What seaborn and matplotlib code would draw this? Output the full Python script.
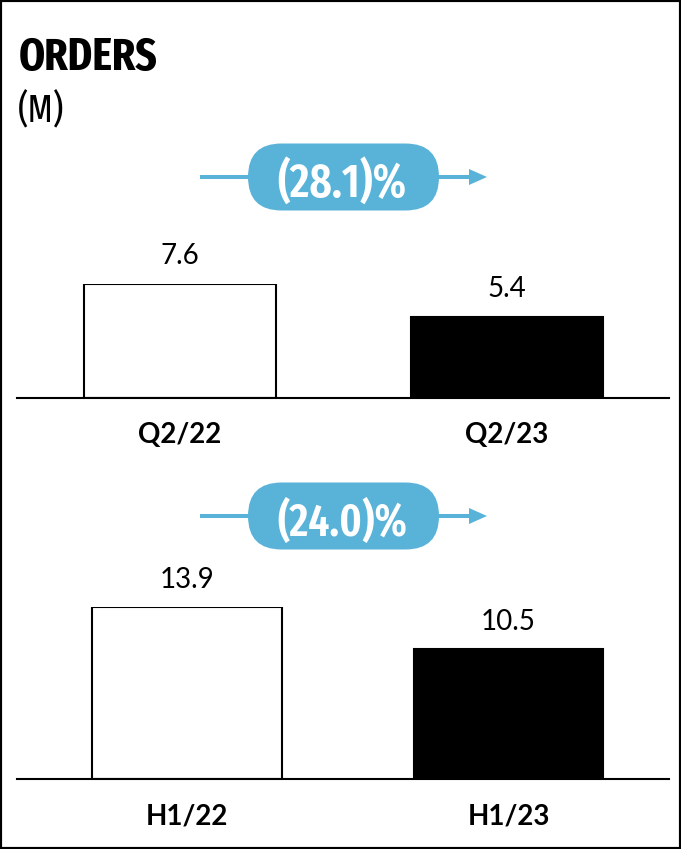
import matplotlib
matplotlib.use("Agg")
import matplotlib.pyplot as plt
from matplotlib import font_manager
from matplotlib.patches import FancyBboxPatch, Polygon, Rectangle
from matplotlib.lines import Line2D
from matplotlib.transforms import IdentityTransform
import seaborn as sns

# ---- data -------------------------------------------------------------
quarter_labels = ["Q2/22", "Q2/23"]
quarter_orders = [7.6, 5.4]
quarter_change = "(28.1)%"

half_labels = ["H1/22", "H1/23"]
half_orders = [13.9, 10.5]
half_change = "(24.0)%"

bar_colors = ["#ffffff", "#000000"]
accent = "#59b3d8"

# ---- fonts ------------------------------------------------------------
def pick(family, fallback):
    try:
        font_manager.findfont(font_manager.FontProperties(family=family),
                              fallback_to_default=False)
        return family
    except Exception:
        return fallback


def stretch_rank(f):
    """Lower is preferred: extra-condensed first, then the neighbouring cuts."""
    key = (f.name + " " + str(f.fname)).replace("-", "").replace(" ", "").lower()
    if "ultracondensed" in key:
        return 2
    if "extracondensed" in key:
        return 0
    if "semicondensed" in key:
        return 3
    if "condensed" in key or "narrow" in key:
        return 1
    return {"extra-condensed": 0, "condensed": 1, "ultra-condensed": 2,
            "semi-condensed": 3}.get(str(f.stretch), 9)


def narrow_font(weight):
    found = []
    for f in font_manager.fontManager.ttflist:
        if str(f.style) != "normal":
            continue
        r = stretch_rank(f)
        if r >= 9:
            continue
        w = f.weight if isinstance(f.weight, int) else (
            700 if "bold" in str(f.weight).lower() else 400)
        found.append((abs(w - weight) // 50, r, f.fname))
    if found:
        found.sort()
        return font_manager.FontProperties(fname=found[0][2])
    return font_manager.FontProperties(family="DejaVu Sans",
                                       weight="bold" if weight >= 600 else "normal")


narrow_bold = narrow_font(700)
narrow_semi = narrow_font(600)
narrow_reg = narrow_font(400)
body = pick("Lato", "DejaVu Sans")

sns.set_theme(style="white")
plt.rcParams["font.family"] = [body, "DejaVu Sans"]

W, H = 681, 849
fig = plt.figure(figsize=(W / 100, H / 100), dpi=100)
fig.patch.set_facecolor("white")
renderer = fig.canvas.get_renderer()


def fx(x):
    return x / W


def fy(y):
    return 1 - y / H


def fitted_text(x, y, s, fp, size, max_w, **kw):
    """Place text, shrinking it until it is no wider than max_w pixels."""
    t = fig.text(x, y, s, fontproperties=fp, **kw)
    t.set_fontsize(size)
    while t.get_window_extent(renderer).width > max_w and size > 8:
        size -= 0.5
        t.set_fontsize(size)
    return t


def panel(labels, values, left, right, top, base, xlim, bar_w, pad_val):
    ax = fig.add_axes([fx(left), fy(base), fx(right) - fx(left), (base - top) / H])
    sns.barplot(x=labels, y=values, hue=labels, palette=bar_colors,
                saturation=1, width=bar_w, edgecolor="black", linewidth=1.5,
                legend=False, ax=ax)
    ax.set_ylim(0, max(values))
    ax.set_xlim(*xlim)
    ax.set_facecolor("none")
    for s in ["top", "right", "left"]:
        ax.spines[s].set_visible(False)
    ax.spines["bottom"].set_color("black")
    ax.spines["bottom"].set_linewidth(1.5)
    ax.spines["bottom"].set_zorder(5)
    ax.set_yticks([])
    ax.set_xlabel("")
    ax.set_ylabel("")
    ax.tick_params(axis="x", length=0, pad=17.5)
    for t in ax.get_xticklabels():
        t.set_fontfamily([body, "DejaVu Sans"])
        t.set_fontweight("bold")
        t.set_fontsize(20)
        t.set_color("black")
    for c in ax.containers:
        ax.bar_label(c, fmt="%.1f", padding=pad_val, fontsize=20,
                     color="black", clip_on=False,
                     fontfamily=[body, "DejaVu Sans"])
    return ax


panel(quarter_labels, quarter_orders, 17, 669, 284, 398,
      (-0.498, 1.495), 0.585, 11)
panel(half_labels, half_orders, 17, 669, 607, 779,
      (-0.529, 1.499), 0.59, 10)


# ---- change arrows with pill labels ----------------------------------
def change_badge(text, yc):
    yd = H - yc
    tr = IdentityTransform()
    fig.add_artist(Line2D([200, 472], [yd, yd], color=accent, lw=2.9,
                          transform=tr, solid_capstyle="butt"))
    fig.add_artist(Polygon([[469, yd - 8], [469, yd + 8], [487, yd]],
                           closed=True, facecolor=accent, edgecolor="none",
                           transform=tr))
    fig.add_artist(FancyBboxPatch((248, yd - 33.5), 191, 67,
                                  boxstyle="round,pad=0,rounding_size=33.5",
                                  facecolor=accent, edgecolor="none",
                                  transform=tr))
    fitted_text(fx(342), fy(yc + 2), text, narrow_semi, 39, 130,
                color="white", ha="center", va="center_baseline")


change_badge(quarter_change, 177)
change_badge(half_change, 516)

# ---- title ------------------------------------------------------------
fitted_text(fx(19), fy(70), "ORDERS", narrow_bold, 34, 140,
            ha="left", va="baseline", color="black")
fitted_text(fx(18), fy(122), "(M)", narrow_reg, 28, 52,
            ha="left", va="baseline", color="black")

# ---- frame ------------------------------------------------------------
fig.add_artist(Rectangle((0, 0), 1, 1, transform=fig.transFigure,
                         fill=False, edgecolor="black", lw=3))

fig.savefig("out.png", dpi=100, facecolor="white")
